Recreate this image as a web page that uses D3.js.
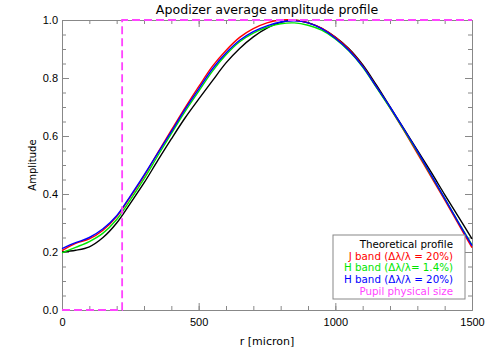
<!DOCTYPE html>
<html>
<head>
<meta charset="utf-8">
<script src="https://cdn.jsdelivr.net/npm/d3@7"></script>
<style>
  body { margin: 0; background: #fff; }
  svg { display: block; font-family: "DejaVu Sans", sans-serif; }
</style>
</head>
<body>
<div id="plot"></div>
<script>
// radius samples [micron]
const radius = [0, 50, 100, 150, 200, 250, 300, 350, 400, 450, 500, 550, 600, 650, 700, 750,
  800, 850, 900, 950, 1000, 1050, 1100, 1150, 1200, 1250, 1300, 1350, 1400, 1450, 1500];

const theoretical = [0.200, 0.206, 0.218, 0.250, 0.300, 0.368, 0.438, 0.515, 0.590, 0.662, 0.727, 0.790, 0.852, 0.902, 0.942, 0.972,
  0.992, 0.999, 0.991, 0.971, 0.941, 0.901, 0.846, 0.776, 0.701, 0.626, 0.551, 0.476, 0.398, 0.322, 0.245];
const jBand = [0.205, 0.230, 0.245, 0.275, 0.322, 0.390, 0.462, 0.542, 0.620, 0.697, 0.770, 0.840, 0.895, 0.940, 0.970, 0.990,
  1.000, 1.000, 0.990, 0.972, 0.940, 0.898, 0.842, 0.770, 0.697, 0.620, 0.540, 0.460, 0.380, 0.297, 0.215];
const hBandNarrow = [0.197, 0.216, 0.236, 0.265, 0.312, 0.380, 0.452, 0.531, 0.608, 0.684, 0.754, 0.823, 0.880, 0.925, 0.955, 0.975,
  0.987, 0.990, 0.982, 0.965, 0.935, 0.893, 0.838, 0.768, 0.697, 0.622, 0.545, 0.465, 0.385, 0.303, 0.225];
const hBandWide = [0.212, 0.232, 0.250, 0.280, 0.325, 0.393, 0.465, 0.540, 0.615, 0.692, 0.762, 0.831, 0.886, 0.930, 0.960, 0.980,
  0.993, 0.997, 0.990, 0.970, 0.937, 0.895, 0.840, 0.770, 0.700, 0.625, 0.548, 0.467, 0.385, 0.302, 0.222];

// pupil physical size (dashed outline)
const pupil = [{ x: 0, y: 0 }, { x: 220, y: 0 }, { x: 220, y: 1 }, { x: 1500, y: 1 }];

const series = [
  { name: "Theoretical profile", values: theoretical, color: "#000000" },
  { name: "J band (\u0394\u03bb/\u03bb = 20%)", values: jBand, color: "#ff0000" },
  { name: "H band (\u0394\u03bb/\u03bb= 1.4%)", values: hBandNarrow, color: "#00e600" },
  { name: "H band (\u0394\u03bb/\u03bb = 20%)", values: hBandWide, color: "#0000ff" }
];
const pupilLabel = "Pupil physical size";
const pupilColor = "#ff44ff";

const xTicks = [0, 500, 1000, 1500];
const yTicks = [0.0, 0.2, 0.4, 0.6, 0.8, 1.0];

// Set up the SVG container
const W = 491, H = 350;
const margin = { top: 20, right: 19, bottom: 40, left: 62 };
const width = W - margin.left - margin.right;
const height = H - margin.top - margin.bottom;

const root = d3.select("#plot").append("svg")
  .attr("width", W)
  .attr("height", H);
const svg = root.append("g")
  .attr("transform", "translate(" + margin.left + "," + margin.top + ")");

const xScale = d3.scaleLinear().domain([0, 1500]).range([0, width]);
const yScale = d3.scaleLinear().domain([0, 1]).range([height, 0]);

const axisColor = "#888";

const xMinor = d3.range(0, 1501, 100);
const yMinor = d3.range(0, 1.0001, 0.05);

// major ticks, inward on all four sides
svg.append("g").attr("transform", "translate(0," + height + ")")
  .call(d3.axisBottom(xScale).tickValues(xTicks).tickFormat(d3.format("d")).tickSize(-7).tickSizeOuter(0).tickPadding(8));
svg.append("g")
  .call(d3.axisLeft(yScale).tickValues(yTicks).tickFormat(d3.format(".1f")).tickSize(-7).tickSizeOuter(0).tickPadding(4));
svg.append("g")
  .call(d3.axisTop(xScale).tickValues(xTicks).tickFormat("").tickSize(-7).tickSizeOuter(0));
svg.append("g").attr("transform", "translate(" + width + ",0)")
  .call(d3.axisRight(yScale).tickValues(yTicks).tickFormat("").tickSize(-7).tickSizeOuter(0));

// minor ticks
svg.append("g").attr("transform", "translate(0," + height + ")")
  .call(d3.axisBottom(xScale).tickValues(xMinor).tickFormat("").tickSize(-4).tickSizeOuter(0));
svg.append("g")
  .call(d3.axisTop(xScale).tickValues(xMinor).tickFormat("").tickSize(-4).tickSizeOuter(0));
svg.append("g")
  .call(d3.axisLeft(yScale).tickValues(yMinor).tickFormat("").tickSize(-4).tickSizeOuter(0));
svg.append("g").attr("transform", "translate(" + width + ",0)")
  .call(d3.axisRight(yScale).tickValues(yMinor).tickFormat("").tickSize(-4).tickSizeOuter(0));

svg.selectAll(".domain, .tick line").attr("stroke", axisColor);
svg.selectAll(".tick text").attr("fill", "#000").style("font-size", "11px");

// Create the lines
const line = d3.line()
  .x((d, i) => xScale(radius[i]))
  .y(d => yScale(d))
  .curve(d3.curveCatmullRom.alpha(0.5));

series.forEach(s => {
  svg.append("path")
    .datum(s.values)
    .attr("d", line)
    .attr("fill", "none")
    .attr("stroke", s.color)
    .attr("stroke-width", 1.4);
});

svg.append("path")
  .datum(pupil)
  .attr("d", d3.line().x(d => xScale(d.x)).y(d => yScale(d.y)))
  .attr("fill", "none")
  .attr("stroke", pupilColor)
  .attr("stroke-width", 1.8)
  .attr("stroke-dasharray", "8,4");

// title and axis labels
root.append("text")
  .attr("x", margin.left + width / 2).attr("y", 14)
  .attr("text-anchor", "middle")
  .style("font-size", "12.6px")
  .text("Apodizer average amplitude profile");

root.append("text")
  .attr("x", margin.left + width / 2).attr("y", 345)
  .attr("text-anchor", "middle")
  .style("font-size", "11px")
  .text("r [micron]");

root.append("text")
  .attr("transform", "translate(36," + (margin.top + height / 2) + ") rotate(-90)")
  .attr("text-anchor", "middle")
  .style("font-size", "10px")
  .text("Amplitude");

// legend
const legend = root.append("g");
legend.append("rect")
  .attr("x", 333).attr("y", 235).attr("width", 132).attr("height", 64)
  .attr("fill", "#fff").attr("stroke", axisColor);
const legendItems = series.map(s => ({ name: s.name, color: s.color }))
  .concat([{ name: pupilLabel, color: pupilColor }]);
legend.selectAll("text.leg").data(legendItems).join("text")
  .attr("class", "leg")
  .attr("x", 453)
  .attr("y", (d, i) => 248 + i * 11.7)
  .attr("text-anchor", "end")
  .attr("fill", d => d.color)
  .style("font-size", "10.3px")
  .text(d => d.name);
</script>
</body>
</html>
